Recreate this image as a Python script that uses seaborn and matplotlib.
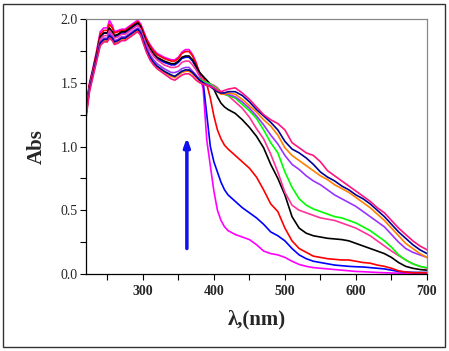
import numpy as np
import pandas as pd
import matplotlib
matplotlib.use("Agg")
import matplotlib.pyplot as plt
from matplotlib.patches import Rectangle
import seaborn as sns

wavelength = [220, 225, 230, 235, 240, 245, 250, 253, 257, 260, 265, 270, 275, 280, 285, 290, 293, 297, 300, 305,
              310, 315, 320, 330, 340, 345, 350, 355, 360, 365, 370, 375, 380,
              385, 390, 395, 400, 405, 410, 415,
              420, 430, 440, 450, 460, 470, 480, 490, 500, 510, 520, 530, 540, 550, 560, 570, 580, 590, 600, 610,
              620, 630, 640, 650, 660, 670, 680, 690, 700]

s_magenta = [1.30, 1.50, 1.62, 1.75, 1.90, 1.93, 1.93, 1.99, 1.95, 1.90, 1.91, 1.92, 1.92, 1.94, 1.96, 1.98, 1.99, 1.96, 1.92, 1.85,
             1.80, 1.76, 1.73, 1.70, 1.68, 1.68, 1.70, 1.74, 1.76, 1.76, 1.72, 1.66, 1.56,
             1.45, 1.05, 0.85, 0.65, 0.50, 0.42, 0.37,
             0.34, 0.31, 0.29, 0.27, 0.23, 0.18, 0.16, 0.15, 0.13, 0.10, 0.075, 0.06, 0.05, 0.045, 0.04, 0.035, 0.03, 0.025, 0.02, 0.018,
             0.015, 0.012, 0.01, 0.008, 0.007, 0.006, 0.005, 0.005, 0.005]
s_blue = [1.28, 1.48, 1.60, 1.72, 1.86, 1.89, 1.89, 1.92, 1.89, 1.86, 1.87, 1.89, 1.89, 1.91, 1.93, 1.95, 1.96, 1.93, 1.88, 1.81,
          1.76, 1.72, 1.69, 1.66, 1.64, 1.64, 1.66, 1.69, 1.70, 1.70, 1.67, 1.62, 1.56,
          1.50, 1.25, 1.00, 0.88, 0.80, 0.72, 0.66,
          0.62, 0.57, 0.52, 0.48, 0.44, 0.39, 0.33, 0.30, 0.26, 0.20, 0.15, 0.12, 0.10, 0.09, 0.08, 0.07, 0.065, 0.06, 0.057, 0.055,
          0.05, 0.045, 0.04, 0.03, 0.02, 0.015, 0.013, 0.012, 0.012]
s_red = [1.29, 1.49, 1.61, 1.74, 1.88, 1.91, 1.91, 1.96, 1.93, 1.89, 1.90, 1.91, 1.91, 1.93, 1.95, 1.97, 1.98, 1.95, 1.91, 1.84,
         1.79, 1.75, 1.72, 1.69, 1.67, 1.67, 1.69, 1.73, 1.745, 1.745, 1.71, 1.65, 1.58,
         1.54, 1.49, 1.38, 1.24, 1.13, 1.06, 1.01,
         0.98, 0.93, 0.88, 0.83, 0.76, 0.66, 0.55, 0.49, 0.36, 0.26, 0.20, 0.17, 0.14, 0.13, 0.12, 0.115, 0.11, 0.11, 0.10, 0.09,
         0.085, 0.07, 0.06, 0.045, 0.025, 0.015, 0.01, 0.01, 0.01]
s_black = [1.28, 1.48, 1.60, 1.72, 1.86, 1.89, 1.89, 1.93, 1.90, 1.87, 1.88, 1.90, 1.90, 1.92, 1.94, 1.96, 1.97, 1.94, 1.89, 1.82,
           1.77, 1.73, 1.70, 1.67, 1.65, 1.65, 1.67, 1.70, 1.71, 1.71, 1.68, 1.63, 1.58,
           1.55, 1.52, 1.49, 1.45, 1.39, 1.34, 1.31,
           1.29, 1.26, 1.21, 1.15, 1.08, 0.99, 0.86, 0.75, 0.62, 0.45, 0.36, 0.32, 0.30, 0.29, 0.28, 0.275, 0.27, 0.26, 0.24, 0.22,
           0.20, 0.18, 0.16, 0.13, 0.09, 0.06, 0.045, 0.035, 0.03]
s_pink = [1.27, 1.47, 1.59, 1.70, 1.84, 1.87, 1.87, 1.91, 1.88, 1.85, 1.86, 1.88, 1.88, 1.90, 1.92, 1.94, 1.95, 1.92, 1.87, 1.80,
          1.75, 1.71, 1.68, 1.64, 1.62, 1.62, 1.63, 1.66, 1.67, 1.67, 1.64, 1.60, 1.55,
          1.52, 1.50, 1.49, 1.48, 1.46, 1.43, 1.41,
          1.40, 1.35, 1.30, 1.23, 1.14, 1.06, 0.94, 0.80, 0.64, 0.54, 0.50, 0.48, 0.46, 0.44, 0.43, 0.42, 0.40, 0.38, 0.36, 0.33,
          0.30, 0.26, 0.22, 0.18, 0.145, 0.11, 0.08, 0.06, 0.045]
s_green = [1.25, 1.45, 1.57, 1.68, 1.80, 1.83, 1.83, 1.86, 1.84, 1.81, 1.82, 1.84, 1.84, 1.86, 1.88, 1.90, 1.91, 1.88, 1.83, 1.76,
           1.70, 1.66, 1.63, 1.59, 1.56, 1.55, 1.57, 1.59, 1.60, 1.60, 1.58, 1.55, 1.53,
           1.51, 1.50, 1.49, 1.47, 1.45, 1.42, 1.41,
           1.40, 1.38, 1.33, 1.28, 1.22, 1.13, 1.03, 0.95, 0.80, 0.68, 0.59, 0.54, 0.51, 0.49, 0.47, 0.45, 0.44, 0.42, 0.40, 0.37,
           0.34, 0.30, 0.26, 0.21, 0.15, 0.11, 0.08, 0.06, 0.05]
s_purple = [1.26, 1.46, 1.58, 1.69, 1.82, 1.85, 1.85, 1.89, 1.86, 1.83, 1.84, 1.86, 1.86, 1.88, 1.90, 1.92, 1.93, 1.90, 1.85, 1.78,
            1.72, 1.68, 1.65, 1.61, 1.58, 1.58, 1.59, 1.61, 1.62, 1.62, 1.59, 1.56, 1.52,
            1.50, 1.49, 1.48, 1.46, 1.44, 1.42, 1.41,
            1.41, 1.39, 1.35, 1.30, 1.24, 1.17, 1.09, 1.02, 0.93, 0.86, 0.82, 0.77, 0.73, 0.70, 0.66, 0.62, 0.59, 0.56, 0.53, 0.49,
            0.45, 0.41, 0.37, 0.31, 0.25, 0.20, 0.17, 0.15, 0.13]
s_orange = [1.25, 1.45, 1.57, 1.68, 1.80, 1.83, 1.83, 1.86, 1.84, 1.81, 1.82, 1.84, 1.84, 1.86, 1.88, 1.90, 1.91, 1.88, 1.83, 1.75,
            1.69, 1.65, 1.62, 1.58, 1.55, 1.54, 1.56, 1.58, 1.59, 1.59, 1.57, 1.54, 1.51,
            1.49, 1.48, 1.47, 1.45, 1.43, 1.41, 1.41,
            1.42, 1.41, 1.37, 1.32, 1.27, 1.21, 1.16, 1.09, 0.99, 0.93, 0.89, 0.85, 0.81, 0.77, 0.74, 0.70, 0.67, 0.64, 0.60, 0.56,
            0.52, 0.47, 0.42, 0.36, 0.30, 0.24, 0.20, 0.16, 0.13]
s_navy = [1.25, 1.45, 1.57, 1.69, 1.81, 1.84, 1.84, 1.87, 1.85, 1.82, 1.83, 1.85, 1.85, 1.87, 1.89, 1.91, 1.92, 1.89, 1.84, 1.76,
          1.70, 1.66, 1.63, 1.59, 1.56, 1.55, 1.57, 1.59, 1.60, 1.60, 1.58, 1.55, 1.52,
          1.50, 1.48, 1.47, 1.45, 1.43, 1.42, 1.42,
          1.43, 1.43, 1.40, 1.35, 1.29, 1.24, 1.19, 1.13, 1.04, 0.98, 0.95, 0.91, 0.86, 0.80, 0.76, 0.73, 0.69, 0.66, 0.62, 0.59,
          0.55, 0.50, 0.45, 0.39, 0.33, 0.28, 0.23, 0.19, 0.16]
s_pinkred = [1.22, 1.43, 1.55, 1.67, 1.79, 1.82, 1.82, 1.85, 1.83, 1.80, 1.81, 1.83, 1.83, 1.85, 1.87, 1.89, 1.90, 1.87, 1.82, 1.74,
             1.68, 1.64, 1.61, 1.57, 1.53, 1.52, 1.54, 1.56, 1.57, 1.57, 1.55, 1.52, 1.50,
             1.49, 1.48, 1.47, 1.46, 1.44, 1.43, 1.44,
             1.45, 1.46, 1.42, 1.37, 1.31, 1.25, 1.21, 1.18, 1.13, 1.03, 0.99, 0.95, 0.93, 0.88, 0.81, 0.77, 0.73, 0.69, 0.65, 0.61,
             0.57, 0.52, 0.48, 0.42, 0.36, 0.31, 0.26, 0.22, 0.19]

series_names = ["magenta", "blue", "red", "black", "pink", "green", "purple", "orange", "navy", "pinkred"]
series_values = [s_magenta, s_blue, s_red, s_black, s_pink, s_green, s_purple, s_orange, s_navy, s_pinkred]
series_colors = ["#FF00FF", "#0000FF", "#FF0000", "#000000", "#FF3399", "#00FF00", "#9933FF", "#FF8000", "#000099", "#FF1480"]

x_ticks = [300, 400, 500, 600, 700]
y_ticks = [0.0, 0.5, 1.0, 1.5, 2.0]
arrow_x = 362
arrow_y = [0.2, 1.07]

rows = []
for name, vals in zip(series_names, series_values):
    assert len(vals) == len(wavelength), (name, len(vals))
    for w, v in zip(wavelength, vals):
        rows.append({"wl": w, "abs": v, "s": name})
df = pd.DataFrame(rows)

sns.set_style("ticks")
plt.rcParams["font.family"] = ["Liberation Serif", "DejaVu Serif"]

fig = plt.figure(figsize=(4.49, 3.51), dpi=100)
ax = fig.add_axes([86 / 449, 1 - 274 / 351, (427 - 86) / 449, (274 - 19) / 351])

sns.lineplot(data=df, x="wl", y="abs", hue="s", palette=dict(zip(series_names, series_colors)),
             hue_order=series_names, ax=ax, legend=False, linewidth=1.2, sort=True, estimator=None)

ax.annotate("", xy=(arrow_x, arrow_y[1]), xytext=(arrow_x, arrow_y[0]),
            arrowprops=dict(arrowstyle="-|>,head_width=0.18,head_length=0.5", color="#1010EE", lw=2.5,
                            shrinkA=0, shrinkB=0))

ax.set_xlim(220, 700)
ax.set_ylim(0, 2.0)
ax.set_xticks(x_ticks)
ax.set_yticks(y_ticks)
ax.set_xticks([250, 350, 450, 550, 650], minor=True)
ax.set_yticks([0.25, 0.75, 1.25, 1.75], minor=True)
ax.set_xticklabels([str(t) for t in x_ticks], fontsize=10, fontweight="bold")
ax.set_yticklabels([f"{t:.1f}" for t in y_ticks], fontsize=10)
ax.tick_params(which="both", direction="out", length=4, width=0.8, color="black", pad=2)
ax.tick_params(axis="x", pad=4)
ax.set_xlabel("λ,(nm)", fontsize=15, fontweight="bold", labelpad=8)
ax.set_ylabel("Abs", fontsize=15, fontweight="bold", labelpad=10)
for side in ["left", "bottom"]:
    ax.spines[side].set_color("black")
    ax.spines[side].set_linewidth(0.9)
for side in ["top", "right"]:
    ax.spines[side].set_visible(True)
    ax.spines[side].set_color("#888888")
    ax.spines[side].set_linewidth(0.9)

fig.patches.append(Rectangle((3 / 449, 4 / 351), 442 / 449, 343 / 351, transform=fig.transFigure,
                             fill=False, edgecolor="#333333", linewidth=1.0))

fig.savefig("out.png", dpi=100, facecolor="white")
